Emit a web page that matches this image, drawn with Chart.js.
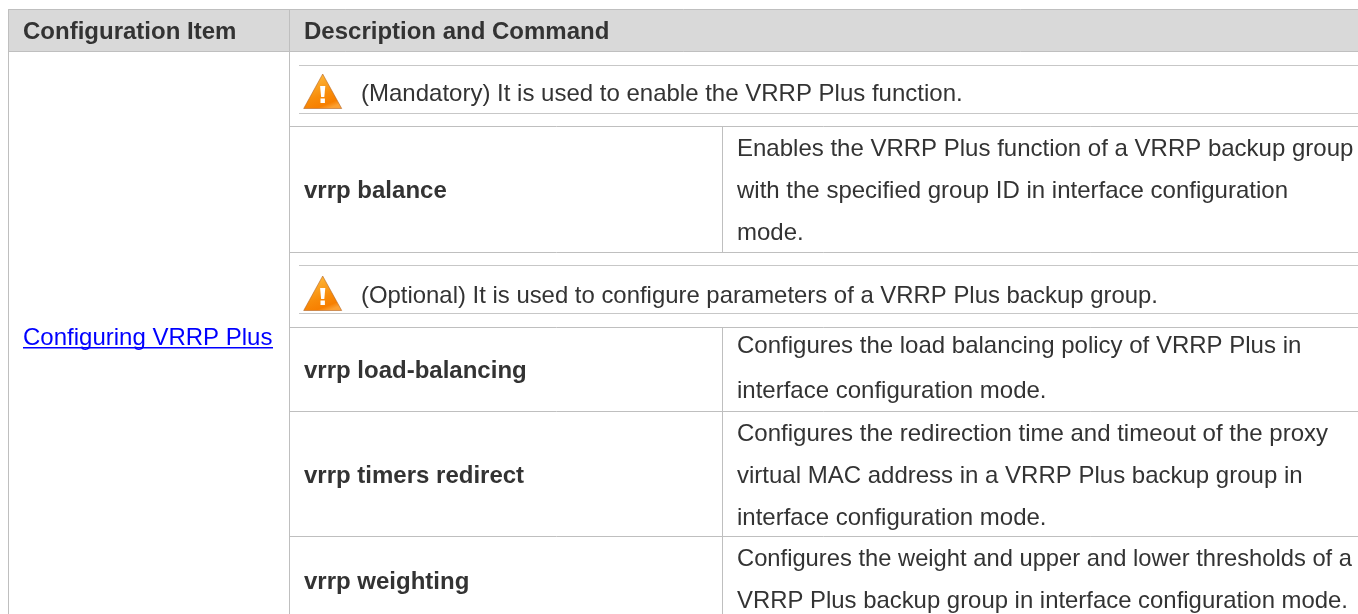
<!DOCTYPE html>
<html>
<head>
<meta charset="utf-8">
<title>Configuring VRRP Plus</title>
<script src="https://cdn.jsdelivr.net/npm/chart.js@4"></script>
<style>
  html, body { margin: 0; padding: 0; background: #fff; overflow: hidden; }
  canvas { display: block; }
</style>
</head>
<body>
<canvas id="tableChart" width="1358" height="614"></canvas>
<script>
// table content
const headerLabels = ['Configuration Item', 'Description and Command'];
const configItem = 'Configuring VRRP Plus';
const notes = [
  '(Mandatory) It is used to enable the VRRP Plus function.',
  '(Optional) It is used to configure parameters of a VRRP Plus backup group.'
];
const commands = ['vrrp balance', 'vrrp load-balancing', 'vrrp timers redirect', 'vrrp weighting'];
const descriptions = [
  ['Enables the VRRP Plus function of a VRRP backup group', 'with the specified group ID in interface configuration', 'mode.'],
  ['Configures the load balancing policy of VRRP Plus in', 'interface configuration mode.'],
  ['Configures the redirection time and timeout of the proxy', 'virtual MAC address in a VRRP Plus backup group in', 'interface configuration mode.'],
  ['Configures the weight and upper and lower thresholds of a', 'VRRP Plus backup group in interface configuration mode.']
];

// layout, in page pixels (the scales below map 1:1)
const LEFT = 8.5, COL1 = 289.5, COL2 = 722.5, RIGHT = 1358, BOTTOM = 614;
const HEAD_TOP = 9.5, HEAD_BOTTOM = 51.5;
const rowLines = [126.5, 252.5, 327.5, 411.5, 536.5];
const dottedLines = [65.5, 113.5, 265.5, 313.5];
const col2Spans = [[126.5, 252.5], [327.5, BOTTOM]];
const noteBase = [101, 303];
const noteIconTop = [74, 276];
const noteMaxW = [undefined, 797];
const commandBase = [198, 378, 483, 589];
const descBase = [[156, 198, 240], [353, 398], [441, 483, 525], [566, 608]];
const descMaxW = [[], [], [], [615, 611]];

const FONT = '"Liberation Sans", Arial, sans-serif';
const TEXT = '#333333';
const RULE = '#bfbfbf';

function segment(x1, y1, x2, y2, color, dash) {
  return {
    data: [{ x: x1, y: y1 }, { x: x2, y: y2 }],
    showLine: true,
    borderColor: color,
    borderWidth: 1,
    borderDash: dash || [],
    pointRadius: 0,
    fill: false
  };
}

const ruleSets = [
  segment(LEFT, HEAD_TOP, RIGHT, HEAD_TOP, RULE),
  segment(LEFT, HEAD_BOTTOM, RIGHT, HEAD_BOTTOM, RULE),
  segment(LEFT, HEAD_TOP, LEFT, BOTTOM, RULE),
  segment(COL1, HEAD_TOP, COL1, BOTTOM, RULE)
];
rowLines.forEach(y => ruleSets.push(segment(COL1, y, RIGHT, y, RULE)));
col2Spans.forEach(s => ruleSets.push(segment(COL2, s[0], COL2, s[1], RULE)));
dottedLines.forEach(y => ruleSets.push(segment(COL1 + 10, y, RIGHT, y, '#8f8f8f', [1, 1])));

function warningIcon(ctx, cx, top) {
  const w = 19, h = 34.5;
  const grad = ctx.createLinearGradient(cx - 6, top + 4, cx + 6, top + h);
  grad.addColorStop(0, '#fdb233');
  grad.addColorStop(0.55, '#f88c0a');
  grad.addColorStop(0.85, '#f77f00');
  grad.addColorStop(1, '#fca032');
  ctx.beginPath();
  ctx.moveTo(cx, top);
  ctx.lineTo(cx + w, top + h);
  ctx.lineTo(cx - w, top + h);
  ctx.closePath();
  ctx.fillStyle = grad;
  ctx.fill();
  ctx.strokeStyle = 'rgba(175,95,35,0.7)';
  ctx.lineWidth = 0.8;
  ctx.stroke();
  // exclamation mark, tapered
  ctx.fillStyle = '#ffffff';
  ctx.beginPath();
  ctx.moveTo(cx - 2.6, top + 12);
  ctx.lineTo(cx + 2.6, top + 12);
  ctx.lineTo(cx + 1.6, top + 23);
  ctx.lineTo(cx - 1.6, top + 23);
  ctx.closePath();
  ctx.fill();
  ctx.fillRect(cx - 2.2, top + 24.5, 4.4, 4.5);
}

// table background goes under the rule datasets, text and icons on top
const tablePlugin = {
  id: 'tablePlugin',
  beforeDatasetsDraw(chart) {
    const { ctx, scales } = chart;
    const y1 = scales.y.getPixelForValue(HEAD_TOP), y2 = scales.y.getPixelForValue(HEAD_BOTTOM);
    ctx.fillStyle = '#d9d9d9';
    ctx.fillRect(LEFT, y1, RIGHT - LEFT, y2 - y1);
  },
  afterDatasetsDraw(chart) {
    const { ctx } = chart;
    ctx.save();
    ctx.textBaseline = 'alphabetic';
    ctx.textAlign = 'left';

    ctx.font = 'bold 24px ' + FONT;
    ctx.fillStyle = TEXT;
    ctx.fillText(headerLabels[0], 23, 39);
    ctx.fillText(headerLabels[1], 304, 39);

    ctx.font = '24px ' + FONT;
    ctx.fillStyle = '#0000ff';
    ctx.fillText(configItem, 23, 345);
    ctx.fillRect(23, 347, 250, 1.5);

    notes.forEach((t, i) => {
      warningIcon(ctx, 322.7, noteIconTop[i]);
      ctx.fillStyle = TEXT;
      ctx.fillText(t, 361, noteBase[i], noteMaxW[i]);
    });
    descriptions.forEach((lines, i) => {
      lines.forEach((t, j) => ctx.fillText(t, 737, descBase[i][j], descMaxW[i][j]));
    });
    ctx.font = 'bold 24px ' + FONT;
    commands.forEach((t, i) => ctx.fillText(t, 304, commandBase[i]));
    ctx.restore();
  }
};

new Chart(document.getElementById('tableChart'), {
  type: 'scatter',
  data: { datasets: ruleSets },
  options: {
    responsive: false,
    animation: false,
    layout: { padding: 0 },
    plugins: { legend: { display: false }, tooltip: { enabled: false } },
    scales: {
      x: { type: 'linear', min: 0, max: 1358, display: false },
      y: { type: 'linear', min: 0, max: 614, reverse: true, display: false }
    }
  },
  plugins: [tablePlugin]
});
</script>
</body>
</html>
